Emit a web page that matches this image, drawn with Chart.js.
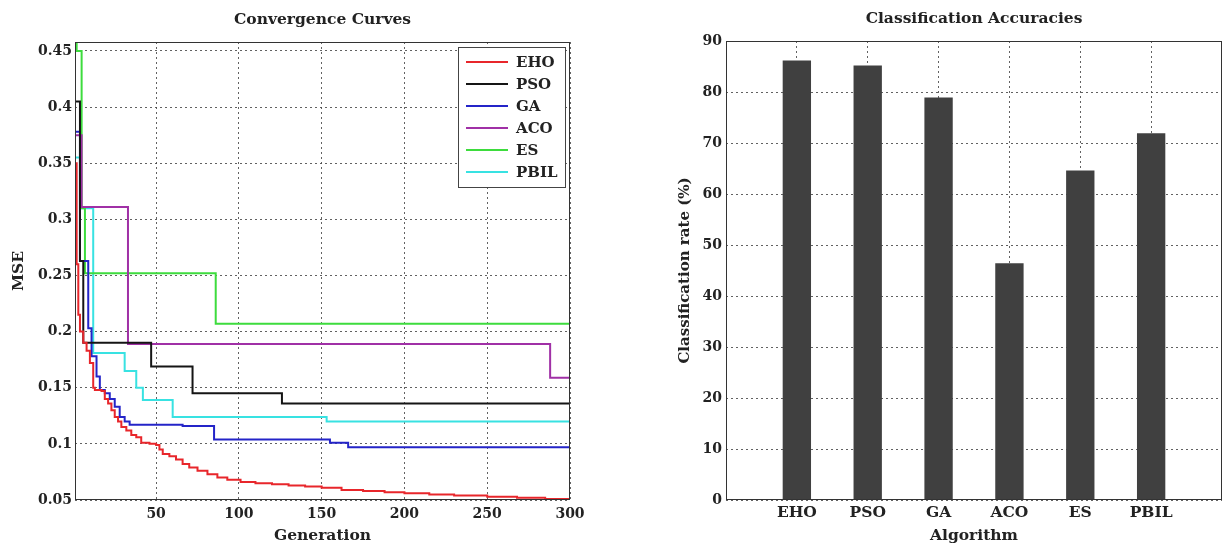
<!DOCTYPE html>
<html>
<head>
<meta charset="utf-8">
<title>Convergence Curves / Classification Accuracies</title>
<script src="https://cdn.jsdelivr.net/npm/chart.js@4.4.1/dist/chart.umd.min.js"></script>
<style>
    html, body { margin: 0; padding: 0; background: #fff; }
    #wrap { position: relative; width: 1226px; height: 545px; overflow: hidden; }
    canvas { position: absolute; top: 0; }
    #convChart { left: 0; }
    #accChart { left: 660px; }
</style>
</head>
<body>
<div id="wrap">
    <canvas id="convChart" width="600" height="545"></canvas>
    <canvas id="accChart" width="566" height="545"></canvas>
</div>
<script>
// Convergence curves: [generation, MSE] at each step change
const EHO = [
    [1, 0.35], [2, 0.26], [3, 0.215], [4, 0.2], [6, 0.19], [8, 0.183], [10, 0.172],
    [12, 0.15], [13, 0.148], [17, 0.147], [19, 0.14], [21, 0.136], [23, 0.13],
    [25, 0.124], [27, 0.12], [29, 0.115], [32, 0.112], [35, 0.108], [38, 0.106],
    [41, 0.101], [46, 0.1], [50, 0.099], [52, 0.095], [54, 0.091], [58, 0.089],
    [62, 0.086], [66, 0.082], [70, 0.079], [75, 0.076], [81, 0.073], [87, 0.07],
    [93, 0.068], [101, 0.066], [110, 0.065], [120, 0.064], [130, 0.063], [140, 0.062],
    [150, 0.061], [162, 0.059], [175, 0.058], [188, 0.057], [200, 0.056], [215, 0.055],
    [230, 0.054], [250, 0.053], [268, 0.052], [285, 0.051], [300, 0.05]
];
const PSO = [[1, 0.405], [4, 0.263], [6, 0.19], [47, 0.169], [72, 0.145], [126, 0.136], [300, 0.136]];
const GA = [
    [1, 0.378], [4, 0.263], [9, 0.203], [11, 0.178], [14, 0.16], [16, 0.148], [19, 0.145],
    [22, 0.14], [25, 0.133], [28, 0.124], [31, 0.12], [34, 0.117], [66, 0.116],
    [85, 0.104], [155, 0.101], [166, 0.097], [300, 0.097]
];
const ACO = [[1, 0.375], [5, 0.311], [33, 0.189], [288, 0.159], [300, 0.159]];
const ES = [[1, 0.458], [2, 0.45], [5, 0.31], [7, 0.252], [86, 0.207], [300, 0.207]];
const PBIL = [
    [1, 0.355], [4, 0.31], [12, 0.181], [31, 0.165], [38, 0.15], [42, 0.139],
    [60, 0.124], [153, 0.12], [300, 0.12]
];
const generationTicks = [50, 100, 150, 200, 250, 300];
const mseTicks = [0.05, 0.1, 0.15, 0.2, 0.25, 0.3, 0.35, 0.4, 0.45];

// Classification accuracies (%)
const algorithms = ['EHO', 'PSO', 'GA', 'ACO', 'ES', 'PBIL'];
const accuracy = [86.2, 85.2, 78.9, 46.4, 64.6, 71.9];
const rateTicks = [0, 10, 20, 30, 40, 50, 60, 70, 80, 90];

const SERIF = '"DejaVu Serif", "Liberation Serif", serif';
const TEXT = '#222';
const GRID = 'rgba(70,70,70,0.85)';

const tickFont = { family: SERIF, size: 14, weight: 'bold' };
const labelFont = { family: SERIF, size: 15.5, weight: 'bold' };

// Box around the plot area plus the axes title on top (matlab look)
const framePlugin = {
    id: 'frame',
    afterDraw(chart, args, opts) {
        const { ctx, chartArea: a } = chart;
        ctx.save();
        ctx.strokeStyle = '#333';
        ctx.lineWidth = 1;
        ctx.strokeRect(a.left + 0.5, a.top + 0.5, a.right - a.left - 1, a.bottom - a.top - 1);
        ctx.fillStyle = TEXT;
        ctx.font = 'bold 15.5px ' + SERIF;
        ctx.textAlign = 'center';
        ctx.textBaseline = 'middle';
        ctx.fillText(opts.text, (a.left + a.right) / 2, a.top - 22);
        ctx.restore();
    }
};

// Boxed legend inside the top right corner
const legendBox = {
    id: 'legendBox',
    afterDraw(chart) {
        const { ctx, chartArea: a } = chart;
        const sets = chart.data.datasets;
        const w = 107, rowH = 22;
        const h = sets.length * rowH + 8;
        const x0 = a.right - 5 - w, y0 = a.top + 5;
        ctx.save();
        ctx.fillStyle = '#fff';
        ctx.fillRect(x0, y0, w, h);
        ctx.strokeStyle = '#444';
        ctx.lineWidth = 1;
        ctx.strokeRect(x0 + 0.5, y0 + 0.5, w, h);
        ctx.font = 'bold 15px ' + SERIF;
        ctx.textBaseline = 'middle';
        ctx.textAlign = 'left';
        sets.forEach((ds, i) => {
            const y = y0 + 15 + i * rowH;
            ctx.strokeStyle = ds.borderColor;
            ctx.lineWidth = 2;
            ctx.beginPath();
            ctx.moveTo(x0 + 8, y);
            ctx.lineTo(x0 + 50, y);
            ctx.stroke();
            ctx.fillStyle = TEXT;
            ctx.fillText(ds.label, x0 + 58, y + 1);
        });
        ctx.restore();
    }
};

const toPoints = arr => arr.map(p => ({ x: p[0], y: p[1] }));
const series = (label, arr, color) => ({
    label: label,
    data: toPoints(arr),
    borderColor: color,
    backgroundColor: color,
    borderWidth: 2,
    pointRadius: 0,
    stepped: 'before',
    fill: false
});

new Chart(document.getElementById('convChart'), {
    type: 'line',
    data: {
        datasets: [
            series('EHO', EHO, '#e8262b'),
            series('PSO', PSO, '#151515'),
            series('GA', GA, '#2424c8'),
            series('ACO', ACO, '#a030a6'),
            series('ES', ES, '#3ddc3d'),
            series('PBIL', PBIL, '#38e2e2')
        ]
    },
    options: {
        responsive: false,
        animation: false,
        layout: { padding: { top: 42, right: 30, left: 0, bottom: 0 } },
        plugins: {
            legend: { display: false },
            tooltip: { enabled: false },
            frame: { text: 'Convergence Curves' }
        },
        scales: {
            x: {
                type: 'linear',
                min: 1,
                max: 300,
                afterBuildTicks: s => { s.ticks = generationTicks.map(v => ({ value: v })); },
                afterFit: s => { s.height = 45; },
                ticks: { font: tickFont, color: TEXT, padding: 6, autoSkip: false, maxRotation: 0 },
                grid: { color: GRID, lineWidth: 1, drawTicks: false },
                border: { display: false, dash: [2, 3] },
                title: { display: true, text: 'Generation', font: labelFont, color: TEXT, padding: { top: 0, bottom: 0 } }
            },
            y: {
                type: 'linear',
                min: 0.05,
                max: 0.458,
                afterBuildTicks: s => { s.ticks = mseTicks.map(v => ({ value: v })); },
                afterFit: s => { s.width = 75; },
                ticks: {
                    font: tickFont, color: TEXT, padding: 3, autoSkip: false,
                    callback: v => String(+v.toFixed(2))
                },
                grid: { color: GRID, lineWidth: 1, drawTicks: false },
                border: { display: false, dash: [2, 3] },
                title: { display: true, text: 'MSE', font: labelFont, color: TEXT, padding: { top: 10, bottom: 0 } }
            }
        }
    },
    plugins: [framePlugin, legendBox]
});

new Chart(document.getElementById('accChart'), {
    type: 'bar',
    data: {
        datasets: [{
            label: 'Classification rate',
            data: accuracy.map((v, i) => ({ x: i + 1, y: v })),
            backgroundColor: '#404040',
            borderWidth: 0,
            barPercentage: 0.4,
            categoryPercentage: 1
        }]
    },
    options: {
        responsive: false,
        animation: false,
        layout: { padding: { top: 41, right: 4, left: 0, bottom: 0 } },
        plugins: {
            legend: { display: false },
            tooltip: { enabled: false },
            frame: { text: 'Classification Accuracies' }
        },
        scales: {
            x: {
                type: 'linear',
                min: 0,
                max: 7,
                offset: false,
                afterBuildTicks: s => { s.ticks = algorithms.map((_, i) => ({ value: i + 1 })); },
                afterFit: s => { s.height = 45; },
                ticks: {
                    font: labelFont, color: TEXT, padding: 4, autoSkip: false, maxRotation: 0,
                    callback: v => algorithms[v - 1]
                },
                grid: { color: GRID, lineWidth: 1, drawTicks: false, offset: false },
                border: { display: false, dash: [2, 3] },
                title: { display: true, text: 'Algorithm', font: labelFont, color: TEXT, padding: { top: 0, bottom: 0 } }
            },
            y: {
                type: 'linear',
                min: 0,
                max: 90,
                afterBuildTicks: s => { s.ticks = rateTicks.map(v => ({ value: v })); },
                afterFit: s => { s.width = 66; },
                ticks: { font: tickFont, color: TEXT, padding: 4, autoSkip: false },
                grid: { color: GRID, lineWidth: 1, drawTicks: false },
                border: { display: false, dash: [2, 3] },
                title: {
                    display: true, text: 'Classification rate (%)',
                    font: { family: SERIF, size: 15, weight: 'bold' }, color: TEXT,
                    padding: { top: 16, bottom: 0 }
                }
            }
        }
    },
    plugins: [framePlugin]
});
</script>
</body>
</html>
